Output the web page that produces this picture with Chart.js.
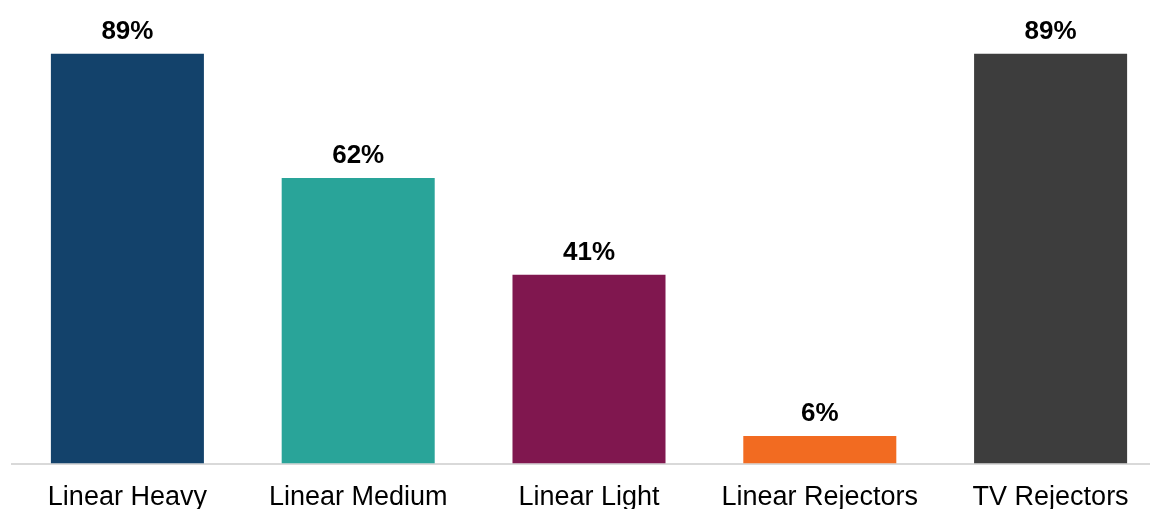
<!DOCTYPE html>
<html lang="en">
<head>
    <meta charset="UTF-8">
    <title>Linear viewing by segment</title>
    <style>
        html, body {
            margin: 0;
            padding: 0;
            background: white;
            overflow: hidden;
            width: 1150px;
            height: 509px;
        }
        .chart-container {
            position: absolute;
            left: 0;
            top: 0;
            width: 1178px;
            height: 524px;
        }
    </style>
</head>
<body>

    <div class="chart-container">
        <canvas id="chart1"></canvas>
    </div>

    <script src="https://cdn.jsdelivr.net/npm/chart.js"></script>
    <script>
        const segments = ["Linear Heavy", "Linear Medium", "Linear Light", "Linear Rejectors", "TV Rejectors"];
        const shares = [89, 62, 41, 6, 89];
        const barColors = ["#13426B", "#29A499", "#80174F", "#F26B21", "#3D3D3D"];

        // draws the % above each bar
        const valueLabels = {
            id: "valueLabels",
            afterDatasetsDraw(chart) {
                let ctx = chart.ctx;
                let meta = chart.getDatasetMeta(0);
                ctx.save();
                ctx.font = "bold 26px 'Liberation Sans', Arial, sans-serif";
                ctx.fillStyle = "#000000";
                ctx.textAlign = "center";
                ctx.textBaseline = "alphabetic";
                meta.data.forEach((bar, i) => {
                    ctx.fillText(shares[i] + "%", bar.x, bar.y - 15);
                });
                ctx.restore();
            }
        };

        let ctx1 = document.getElementById("chart1").getContext("2d");
        new Chart(ctx1, {
            type: "bar",
            data: {
                labels: segments,
                datasets: [{
                    data: shares,
                    backgroundColor: barColors,
                    categoryPercentage: 1,
                    barPercentage: 0.663
                }]
            },
            options: {
                responsive: true,
                maintainAspectRatio: false,
                animation: false,
                layout: { padding: { left: 12, right: 12, top: 3, bottom: 0 } },
                plugins: {
                    legend: { display: false },
                    tooltip: { enabled: false }
                },
                scales: {
                    x: {
                        grid: { display: false },
                        border: { display: true, color: "#D9D9D9", width: 2 },
                        ticks: {
                            color: "#000000",
                            padding: 10,
                            font: { family: "'Liberation Sans', Arial, sans-serif", size: 27 }
                        }
                    },
                    y: {
                        display: false,
                        min: 0,
                        max: 100
                    }
                }
            },
            plugins: [valueLabels]
        });
    </script>

</body>
</html>
